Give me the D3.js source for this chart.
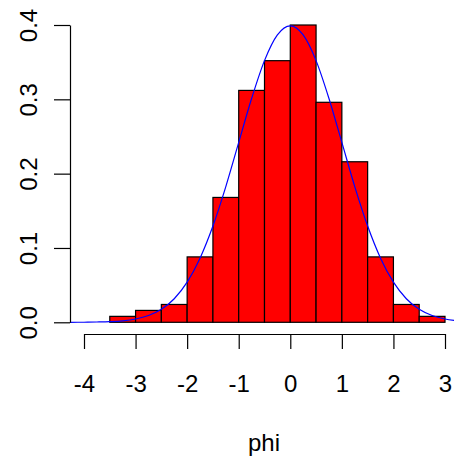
<!DOCTYPE html>
<html>
<head>
<meta charset="utf-8">
<script src="https://cdn.jsdelivr.net/npm/d3@7"></script>
<style>
  body { margin: 0; background: #fff; }
  text { font-family: "Liberation Sans", Arial, sans-serif; font-size: 24px; fill: #000; }
</style>
</head>
<body>
<svg id="chart" width="454" height="460"></svg>
<script>
// histogram bins (density, bin width 0.5)
var binStart = [-3.5, -3, -2.5, -2, -1.5, -1, -0.5, 0, 0.5, 1, 1.5, 2, 2.5];
var binEnd   = [-3, -2.5, -2, -1.5, -1, -0.5, 0, 0.5, 1, 1.5, 2, 2.5, 3];
var density  = [0.008, 0.016, 0.024, 0.088, 0.168, 0.312, 0.352, 0.4, 0.296, 0.216, 0.088, 0.024, 0.008];

// blue curve
var curveX = [-4.27, -4, -3.75, -3.5, -3.25, -3, -2.75, -2.5, -2.25, -2, -1.75, -1.5, -1.25, -1, -0.75, -0.5, -0.25, 0,
              0.25, 0.5, 0.75, 1, 1.25, 1.5, 1.75, 2, 2.25, 2.5, 2.75, 3, 3.25, 3.5];
var curveY = [0, 0.0001, 0.0004, 0.0009, 0.002, 0.0044, 0.0091, 0.0175, 0.0317, 0.054, 0.0863, 0.1295, 0.1826, 0.242, 0.3011, 0.3521, 0.3867, 0.3989,
              0.3867, 0.3521, 0.3011, 0.242, 0.1826, 0.1295, 0.0863, 0.054, 0.0317, 0.0175, 0.0091, 0.0044, 0.002, 0.0009];

var xTicks = [-4, -3, -2, -1, 0, 1, 2, 3];
var yTicks = [0, 0.1, 0.2, 0.3, 0.4];
var xTitle = "phi";

var svg = d3.select("#chart");

var x = d3.scaleLinear().domain([-4, 3]).range([84, 445]);
var y = d3.scaleLinear().domain([0, 0.4]).range([322.3, 25]);

// bars
svg.append("g")
  .selectAll("rect")
  .data(density)
  .enter().append("rect")
    .attr("x", function(d, i) { return x(binStart[i]); })
    .attr("width", function(d, i) { return x(binEnd[i]) - x(binStart[i]); })
    .attr("y", function(d) { return y(d); })
    .attr("height", function(d) { return y(0) - y(d); })
    .style("fill", "#ff0000")
    .style("stroke", "#000")
    .style("stroke-width", 1.2);

// density curve
var line = d3.line()
  .x(function(d, i) { return x(curveX[i]); })
  .y(function(d) { return y(d); })
  .curve(d3.curveMonotoneX);

svg.append("path")
  .attr("d", line(curveY))
  .style("fill", "none")
  .style("stroke", "#0000ff")
  .style("stroke-width", 1.2);

// x axis
var gx = svg.append("g")
  .attr("transform", "translate(0,334)")
  .call(d3.axisBottom(x).tickValues(xTicks).tickSize(15).tickSizeOuter(0).tickPadding(0).tickFormat(d3.format("d")));
gx.selectAll("text").remove();
gx.selectAll(".tick").append("text")
  .attr("y", 58)
  .attr("text-anchor", "middle")
  .text(function(d) { return d; });

// y axis
var gy = svg.append("g")
  .attr("transform", "translate(70,0)")
  .call(d3.axisLeft(y).tickValues(yTicks).tickSize(16).tickSizeOuter(0).tickFormat(d3.format(".1f")));
gy.selectAll("text").remove();
gy.selectAll(".tick").append("text")
  .attr("transform", "translate(-33,0) rotate(-90)")
  .attr("text-anchor", "middle")
  .text(function(d) { return d3.format(".1f")(d); });

svg.selectAll(".domain, .tick line")
  .style("stroke", "#000")
  .style("stroke-width", 1.2);

// axis title
svg.append("text")
  .attr("x", 264)
  .attr("y", 451)
  .attr("text-anchor", "middle")
  .text(xTitle);
</script>
</body>
</html>
